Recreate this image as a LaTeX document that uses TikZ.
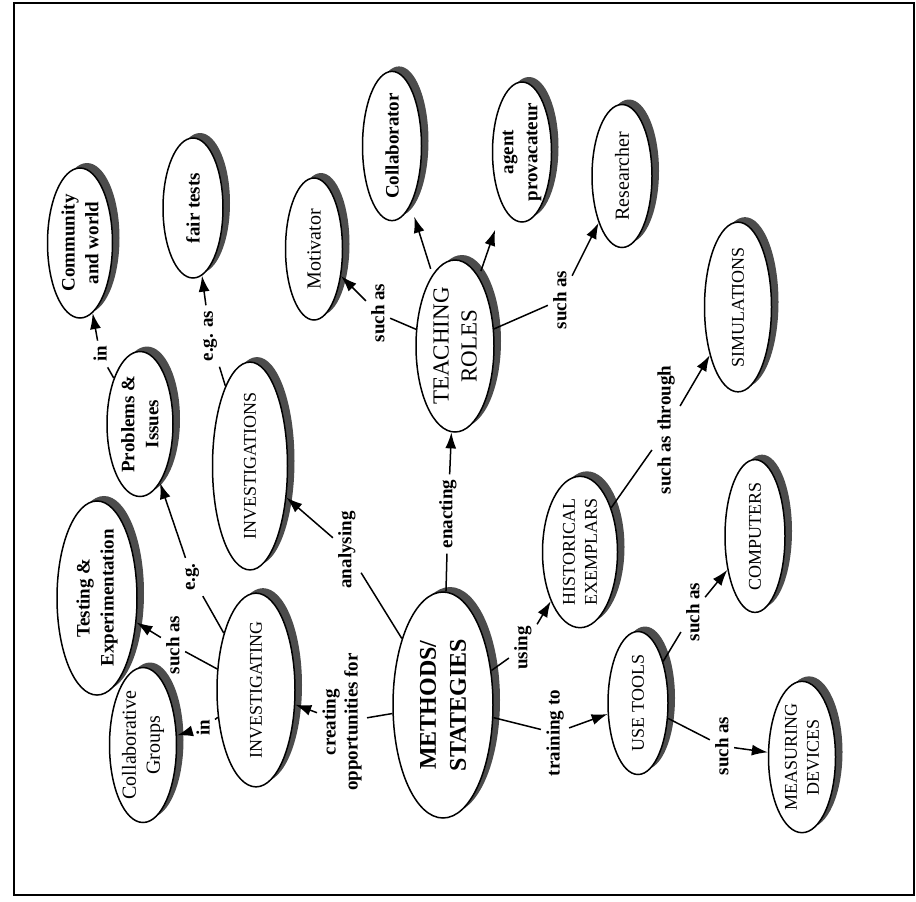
\documentclass[tikz,border=0pt]{standalone}
\usepackage{fontspec}
\setmainfont{Liberation Serif}
\usetikzlibrary{shapes.geometric,arrows.meta}

\begin{document}
\begin{tikzpicture}[x=0.5pt,y=-0.5pt,
    concept/.style={ellipse,draw,line width=0.75pt,fill=white,rotate=90,inner sep=0pt,align=center,
      preaction={draw=none,fill=black!70,transform canvas={xshift=3.5pt,yshift=2.5pt}}},
    caps/.style={font=\fontsize{9}{11}\selectfont},
    plain/.style={font=\fontsize{10}{12}\selectfont},
    heavy/.style={font=\bfseries\fontsize{9.5}{12}\selectfont},
    link/.style={rotate=90,inner sep=2.5pt,align=center,font=\bfseries\fontsize{9.5}{11}\selectfont},
    line/.style={line width=0.75pt},
    arrow/.style={line width=0.75pt,-{Latex[length=8pt,width=5.5pt]}}]
    \useasboundingbox (0,0) rectangle (916,901);
    % Frame
    \draw[line width=1.2pt] (14,3) rectangle (914,895);
    % Central concept
    \node[concept,minimum width=113pt,minimum height=50pt,font=\bfseries\fontsize{12}{15}\selectfont] (methods) at (443,705) {METHODS/\\STATEGIES};
    % Investigating side
    \node[concept,caps,minimum width=87.5pt,minimum height=39pt] (invng) at (256,690) {INVESTIGATING};
    \node[concept,plain,minimum width=77.5pt,minimum height=33.5pt] (collgr) at (143,745) {Collaborative\\Groups};
    \node[concept,heavy,minimum width=82.5pt,minimum height=40pt] (testexp) at (97,598) {Testing \&\\Experimentation};
    \node[concept,heavy,minimum width=72.5pt,minimum height=33pt] (probs) at (140,424) {Problems \&\\Issues};
    \node[concept,heavy,minimum width=75pt,minimum height=32.5pt] (comm) at (80,243) {Community\\and world};
    \node[concept,caps,minimum width=86pt,minimum height=37.5pt] (invs) at (250,466) {INVESTIGATIONS};
    \node[concept,heavy,minimum width=70pt,minimum height=30pt] (fair) at (193,208) {fair tests};
    % Teaching roles
    \node[concept,font=\fontsize{11.5}{14}\selectfont,minimum width=86pt,minimum height=39pt] (teach) at (455,346) {TEACHING\\ROLES};
    \node[concept,plain,minimum width=71pt,minimum height=28.5pt] (motiv) at (314,249) {Motivator};
    \node[concept,heavy,minimum width=73pt,minimum height=29.5pt] (collab) at (392,146) {Collaborator};
    \node[concept,heavy,minimum width=70pt,minimum height=29.5pt] (agent) at (522,152) {agent\\provacateur};
    \node[concept,plain,minimum width=71.5pt,minimum height=30pt] (research) at (622,176) {Researcher};
    % Exemplars and tools
    \node[concept,caps,minimum width=75pt,minimum height=37.5pt] (hist) at (580,552) {HISTORICAL\\EXEMPLARS};
    \node[concept,caps,minimum width=74.5pt,minimum height=33.5pt] (sims) at (738,307) {SIMULATIONS};
    \node[concept,caps,minimum width=71.5pt,minimum height=30pt] (tools) at (638,703) {USE TOOLS};
    \node[concept,caps,minimum width=71pt,minimum height=30pt] (comps) at (755,536) {COMPUTERS};
    \node[concept,caps,minimum width=74.5pt,minimum height=33.5pt] (measure) at (802,757) {MEASURING\\DEVICES};
    % Link words
    \node[link] (lcreate) at (342,722) {creating\\opportunities for};
    \node[link] (lin2) at (203,728) {in};
    \node[link] (lsa1) at (173,645) {such as};
    \node[link] (leg) at (192,577) {e.g.};
    \node[link] (lin1) at (100,354) {in};
    \node[link] (lanal) at (347,550) {analysing};
    \node[link] (lega) at (210,336) {e.g. as};
    \node[link] (lenact) at (448,514) {enacting};
    \node[link] (lsa4) at (378,313) {such as};
    \node[link] (lsa5) at (560,300) {such as};
    \node[link] (lusing) at (523,648) {using};
    \node[link] (lthrough) at (666,430) {such as through};
    \node[link] (ltrain) at (555,733) {training to};
    \node[link] (lsa2) at (693,612) {such as};
    \node[link] (lsa3) at (722,746) {such as};
    % Links out of investigating
    \draw[line] (methods) -- (lcreate);
    \draw[arrow] (lcreate) -- (invng);
    \draw[line] (invng) -- (lin2);
    \draw[arrow] (lin2) -- (collgr);
    \draw[line] (invng) -- (lsa1);
    \draw[arrow] (lsa1) -- (testexp);
    \draw[line] (invng) -- (leg);
    \draw[arrow] (leg) -- (probs);
    \draw[line] (probs) -- (lin1);
    \draw[arrow] (lin1) -- (comm);
    \draw[line] (methods) -- (lanal);
    \draw[arrow] (lanal) -- (invs);
    \draw[line] (invs) -- (lega);
    \draw[arrow] (lega) -- (fair);
    % Links out of teaching roles
    \draw[line] (methods) -- (lenact);
    \draw[arrow] (lenact) -- (teach);
    \draw[line] (teach) -- (lsa4);
    \draw[arrow] (lsa4) -- (motiv);
    \draw[arrow,shorten <=3pt,shorten >=6pt] (teach) -- (collab);
    \draw[arrow,shorten <=3pt,shorten >=12pt] (teach) -- (agent);
    \draw[line] (teach) -- (lsa5);
    \draw[arrow] (lsa5) -- (research);
    % Links out of exemplars and tools
    \draw[line] (methods) -- (lusing);
    \draw[arrow] (lusing) -- (hist);
    \draw[line] (hist) -- (lthrough);
    \draw[arrow] (lthrough) -- (sims);
    \draw[line] (methods) -- (ltrain);
    \draw[arrow] (ltrain) -- (tools);
    \draw[line] (tools) -- (lsa2);
    \draw[arrow] (lsa2) -- (comps);
    \draw[line] (tools) -- (lsa3);
    \draw[arrow] (lsa3) -- (measure);
\end{tikzpicture}
\end{document}
